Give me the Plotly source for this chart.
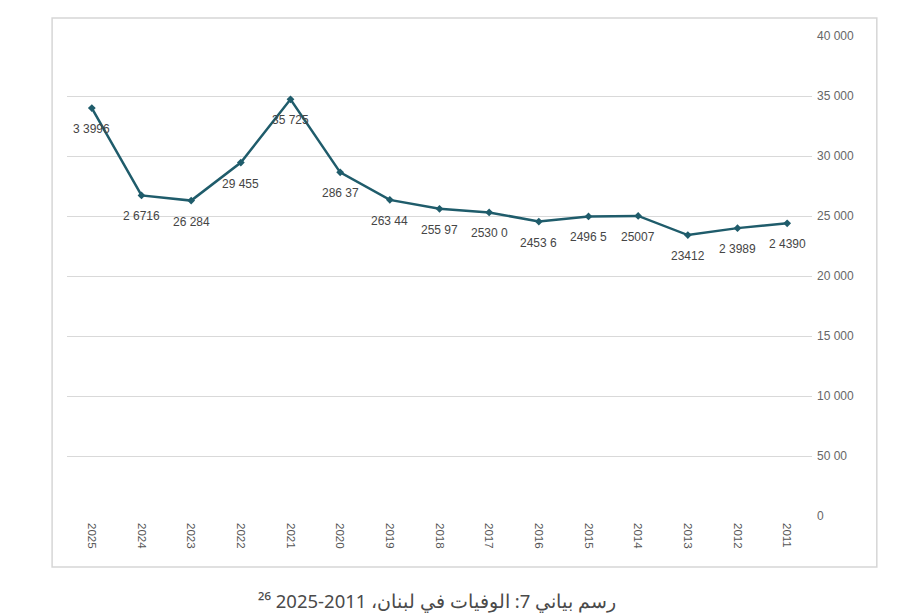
import plotly.graph_objects as go

years = ["2025", "2024", "2023", "2022", "2021", "2020", "2019", "2018",
         "2017", "2016", "2015", "2014", "2013", "2012", "2011"]
deaths = [33996, 26716, 26284, 29455, 34725, 28637, 26344, 25597,
          25300, 24536, 24965, 25007, 23412, 23989, 24390]
# labels as they appear in the source (RTL-garbled spacing)
point_labels = ["3 3996", "2 6716", "26 284", "29 455", "35 725", "286 37", "263 44", "255 97",
                "2530 0", "2453 6", "2496 5", "25007", "23412", "2 3989", "2 4390"]
y_ticks = [0, 5000, 10000, 15000, 20000, 25000, 30000, 35000, 40000]
y_tick_text = ["0", "50 00", "10 000", "15 000", "20 000", "25 000", "30 000", "35 000", "40 000"]

caption = "رسم بياني 7: الوفيات في لبنان، 2011-2025 ²⁶"

fig = go.Figure()
fig.add_trace(go.Scatter(
    x=years, y=deaths, mode='lines+markers',
    line=dict(color='#1f5c6b', width=2.5),
    marker=dict(color='#1f5c6b', size=6, symbol='diamond'),
    cliponaxis=False,
))

# data labels sit ~20px under each point (category axis -> use the serial index)
labels = [dict(x=i, y=v, text=t, showarrow=False, yshift=-21,
               xanchor='center', yanchor='middle',
               font=dict(family='Liberation Sans', size=12, color='#454545'))
          for i, (v, t) in enumerate(zip(deaths, point_labels))]

labels.append(dict(
    text=caption, xref='paper', yref='paper', x=0.497, y=-0.177,
    showarrow=False, xanchor='center', yanchor='middle',
    font=dict(family='Noto Sans', size=18.5, color='#4a4a4a'),
))

# page has an 8px body margin, so the figure is a bit smaller than the window
fig.update_layout(
    width=884, height=608,
    margin=dict(l=59, r=80, t=28, b=100),
    plot_bgcolor='white', paper_bgcolor='white',
    showlegend=False,
    font=dict(family='Liberation Sans', color='#555555'),
    xaxis=dict(
        type='category', range=[-0.5, len(years) - 0.5], tickangle=90,
        showgrid=False, showline=False, zeroline=False, ticks='',
        ticklabelstandoff=6, tickfont=dict(size=11.5, color='#555555'),
    ),
    yaxis=dict(
        side='right', range=[0, 40000], tickvals=y_ticks, ticktext=y_tick_text,
        showgrid=True, gridcolor='#d9d9d9', gridwidth=1, zeroline=False,
        showline=False, ticks='', ticklabelstandoff=4,
        tickfont=dict(size=12, color='#666666'),
    ),
    shapes=[dict(
        type='rect', xref='paper', yref='paper',
        x0=-0.020, x1=1.087, y0=-0.106, y1=1.0375,
        line=dict(color='#d6d6d6', width=1.5), fillcolor='rgba(0,0,0,0)',
    )],
    annotations=labels,
)

fig.write_html("out.html")
